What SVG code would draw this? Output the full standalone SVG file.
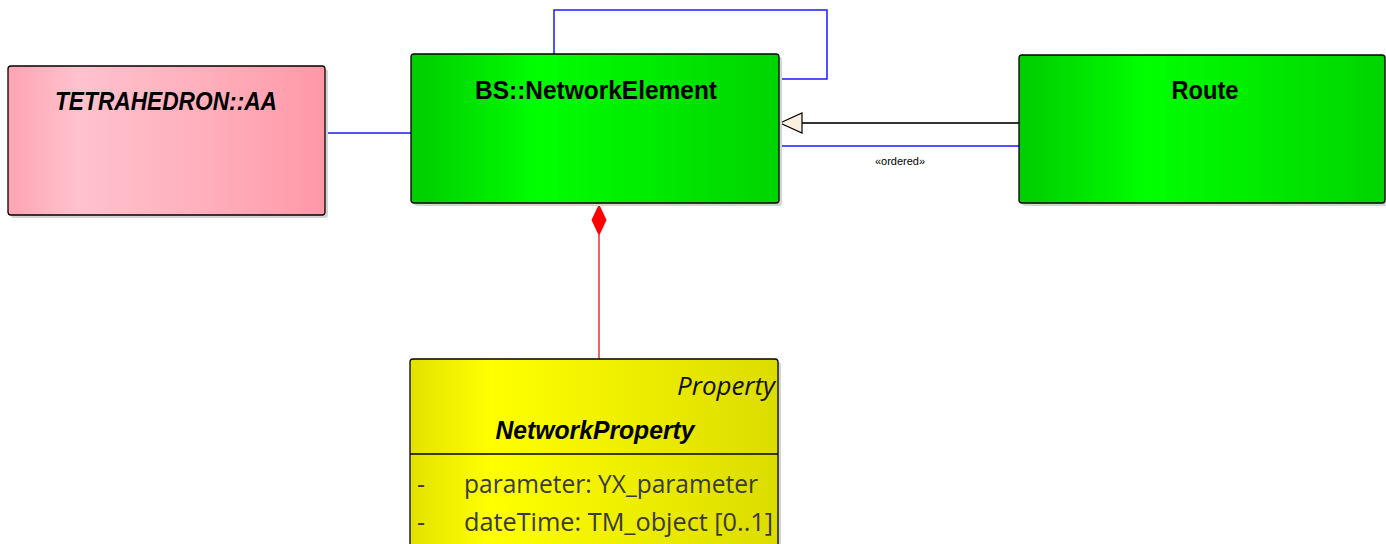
<svg xmlns="http://www.w3.org/2000/svg" width="1386" height="544" viewBox="0 0 1386 544">
  <style>
    .box { stroke: #000; stroke-width: 1.3; }
    .shadow { fill: #d4d4d4; }
    .title { font-family: "Liberation Sans", Arial, sans-serif; font-weight: bold; font-size: 26px; fill: #000; text-anchor: middle; }
    .ital { font-style: italic; }
    .attr { font-family: "Open Sans", "Liberation Sans", sans-serif; font-size: 25px; fill: #3a3a3a; }
    .assoc { stroke: #1a1aff; stroke-width: 1.5; fill: none; }
    .gen { stroke: #333; stroke-width: 2; fill: none; }
    .comp { stroke: #e00000; stroke-width: 1.2; fill: none; }
    .small { font-family: "Liberation Sans", Arial, sans-serif; font-size: 11px; fill: #000; }
  </style>
  <defs>
    <linearGradient id="pink" x1="0" y1="0" x2="1" y2="0">
      <stop offset="0" stop-color="#ffa3b2"/>
      <stop offset="0.22" stop-color="#ffc2cd"/>
      <stop offset="0.6" stop-color="#ffb0bd"/>
      <stop offset="1" stop-color="#ff98a8"/>
    </linearGradient>
    <linearGradient id="green" x1="0" y1="0" x2="1" y2="0">
      <stop offset="0" stop-color="#00cc00"/>
      <stop offset="0.35" stop-color="#00ff00"/>
      <stop offset="1" stop-color="#00d400"/>
    </linearGradient>
    <linearGradient id="yellow" x1="0" y1="0" x2="1" y2="0">
      <stop offset="0" stop-color="#e2e200"/>
      <stop offset="0.22" stop-color="#ffff00"/>
      <stop offset="1" stop-color="#dcdc00"/>
    </linearGradient>
  </defs>

  <!-- connectors -->
  <g id="connectors">
    <!-- association between TETRAHEDRON::AA and NetworkElement -->
    <line class="assoc" x1="326" y1="133" x2="411" y2="133"/>
    <!-- self association on NetworkElement -->
    <polyline class="assoc" points="554,54 554,10 827,10 827,79 779,79"/>
    <!-- generalization Route -> NetworkElement -->
    <line class="gen" x1="801" y1="123" x2="1019" y2="123"/>
    <polygon points="780,123 802,113 802,133" fill="#fbefe0" stroke="#000" stroke-width="1.2"/>
    <!-- ordered association Route - NetworkElement -->
    <line class="assoc" x1="779" y1="146" x2="1019" y2="146"/>
    <text class="small" x="900" y="165" text-anchor="middle">«ordered»</text>
    <!-- composition NetworkElement <>- NetworkProperty -->
    <line class="comp" x1="599" y1="235" x2="599" y2="359"/>
    <polygon points="599,204 606.5,220 599,236 591.5,220" fill="#ff0000"/>
  </g>

  <!-- TETRAHEDRON::AA -->
  <g id="tetrahedron-aa">
    <rect class="shadow" x="11" y="69" width="317" height="149" rx="3"/>
    <rect class="box" x="8" y="66" width="317" height="149" rx="3" fill="url(#pink)"/>
    <text class="title ital" x="166" y="110" textLength="222" lengthAdjust="spacingAndGlyphs">TETRAHEDRON::AA</text>
  </g>

  <!-- BS::NetworkElement -->
  <g id="network-element">
    <rect class="shadow" x="414" y="57" width="368" height="149" rx="3"/>
    <rect class="box" x="411" y="54" width="368" height="149" rx="3" fill="url(#green)"/>
    <text class="title" x="596" y="99" textLength="242" lengthAdjust="spacingAndGlyphs">BS::NetworkElement</text>
  </g>

  <!-- Route -->
  <g id="route">
    <rect class="shadow" x="1022" y="57" width="366" height="149" rx="3"/>
    <rect class="box" x="1019" y="55" width="366" height="148" rx="3" fill="url(#green)"/>
    <text class="title" x="1205" y="99" textLength="67" lengthAdjust="spacingAndGlyphs">Route</text>
  </g>

  <!-- NetworkProperty -->
  <g id="network-property">
    <rect class="shadow" x="413" y="362" width="368" height="190" rx="3"/>
    <rect class="box" x="410" y="359" width="368" height="190" rx="3" fill="url(#yellow)"/>
    <text class="attr ital" x="775" y="395" text-anchor="end" style="fill:#111" textLength="98" lengthAdjust="spacingAndGlyphs">Property</text>
    <text class="title ital" x="595" y="439" textLength="199" lengthAdjust="spacingAndGlyphs">NetworkProperty</text>
    <line x1="410" y1="454" x2="778" y2="454" stroke="#000" stroke-width="1.3"/>
    <text class="attr" x="417" y="493">-</text>
    <text class="attr" x="464" y="493" textLength="294" lengthAdjust="spacingAndGlyphs">parameter: YX_parameter</text>
    <text class="attr" x="417" y="531">-</text>
    <text class="attr" x="464" y="531" textLength="309" lengthAdjust="spacingAndGlyphs">dateTime: TM_object [0..1]</text>
  </g>
</svg>
